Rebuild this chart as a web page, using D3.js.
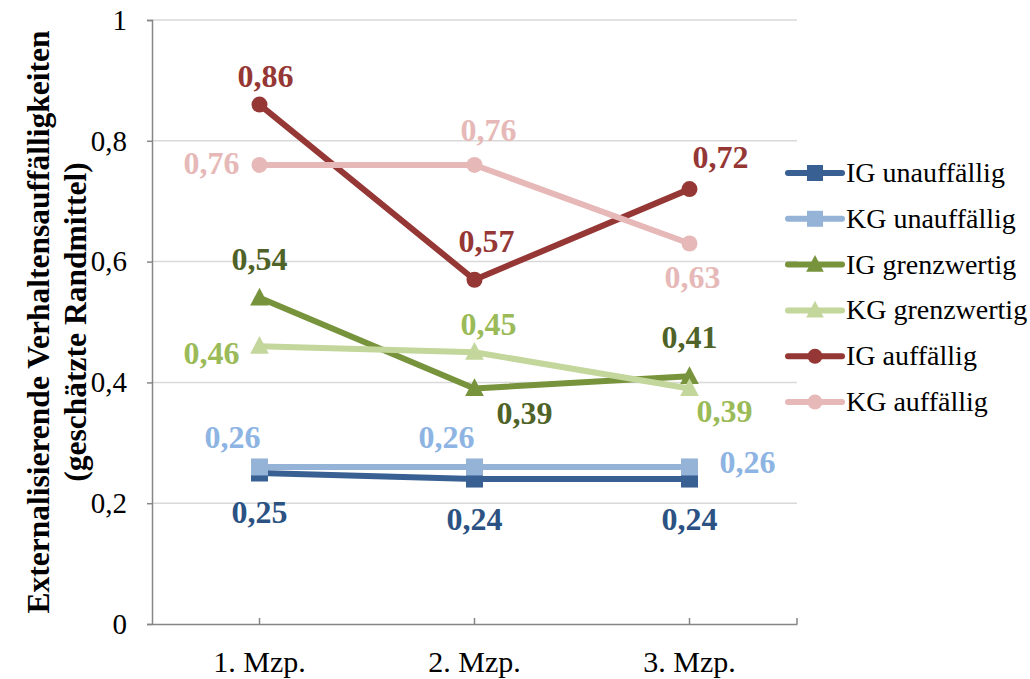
<!DOCTYPE html>
<html>
<head>
<meta charset="utf-8">
<script src="https://cdn.jsdelivr.net/npm/d3@7"></script>
<style>
  html, body { margin: 0; padding: 0; background: #fff; }
  svg { display: block; }
</style>
</head>
<body>
<svg id="chart" width="1030" height="679"></svg>
<script>
// Messzeitpunkte
const categories = ["1. Mzp.", "2. Mzp.", "3. Mzp."];

// Geschätzte Randmittel je Gruppe
const igUnauffaellig = [0.25, 0.24, 0.24];
const kgUnauffaellig = [0.26, 0.26, 0.26];
const igGrenzwertig  = [0.54, 0.39, 0.41];
const kgGrenzwertig  = [0.46, 0.45, 0.39];
const igAuffaellig   = [0.86, 0.57, 0.72];
const kgAuffaellig   = [0.76, 0.76, 0.63];

const seriesNames = ["IG unauffällig", "KG unauffällig", "IG grenzwertig",
                     "KG grenzwertig", "IG auffällig", "KG auffällig"];

const yTicks = [0, 0.2, 0.4, 0.6, 0.8, 1];
const yTickLabels = ["0", "0,2", "0,4", "0,6", "0,8", "1"];

const FONT = "'Liberation Serif', 'Times New Roman', Tinos, Times, serif";

// Styling per series: line colour, label colour, marker and label offset [dx, dy, anchor] per point
const series = [
  { name: seriesNames[0], values: igUnauffaellig, color: "#386093", labelColor: "#2b5283", marker: "square",
    lbl: [[0, 50, "middle"], [0, 51, "middle"], [0, 51, "middle"]] },
  { name: seriesNames[1], values: kgUnauffaellig, color: "#95b3d7", labelColor: "#8db4e2", marker: "square",
    lbl: [[-27, -19, "middle"], [-28, -19, "middle"], [30, 6, "start"]] },
  { name: seriesNames[2], values: igGrenzwertig, color: "#77933c", labelColor: "#4f6228", marker: "triangle",
    lbl: [[0, -28, "middle"], [50, 36, "middle"], [0, -28, "middle"]] },
  { name: seriesNames[3], values: kgGrenzwertig, color: "#c3d69b", labelColor: "#9bbb59", marker: "triangle",
    lbl: [[-20, 18, "end"], [14, -17, "middle"], [35, 34, "middle"]] },
  { name: seriesNames[4], values: igAuffaellig, color: "#953735", labelColor: "#953735", marker: "circle",
    lbl: [[6, -18, "middle"], [12, -28, "middle"], [31, -21, "middle"]] },
  { name: seriesNames[5], values: kgAuffaellig, color: "#e6b9b8", labelColor: "#e6b9b8", marker: "circle",
    lbl: [[-20, 9, "end"], [14, -24, "middle"], [3, 45, "middle"]] }
];

const svg = d3.select("#chart");
const plot = { left: 152, right: 797, top: 20, bottom: 624 };

const x = d3.scaleBand().domain(categories).range([plot.left, plot.right]).padding(0);
const cx = c => x(c) + x.bandwidth() / 2;
const y = d3.scaleLinear().domain([0, 1]).range([plot.bottom, plot.top]);

const fmt = v => d3.format(".2f")(v).replace(".", ",");

// Horizontal gridlines
svg.append("g").selectAll("line")
  .data(yTicks.filter(t => t > 0))
  .join("line")
  .attr("x1", plot.left).attr("x2", plot.right)
  .attr("y1", d => y(d)).attr("y2", d => y(d))
  .attr("stroke", "#d9d9d9").attr("stroke-width", 1.5);

// Y axis
const yAxis = svg.append("g")
  .attr("transform", `translate(${plot.left},0)`)
  .call(d3.axisLeft(y).tickValues(yTicks).tickSize(5).tickPadding(20)
        .tickFormat((d, i) => yTickLabels[i]));
yAxis.attr("font-family", FONT);
yAxis.select(".domain").attr("stroke", "#868686").attr("stroke-width", 1.5);
yAxis.selectAll(".tick line").attr("stroke", "#868686").attr("stroke-width", 1.5);
yAxis.selectAll("text").attr("font-size", 29).attr("fill", "#000");

// X axis
const xAxis = svg.append("g")
  .attr("transform", `translate(0,${plot.bottom})`)
  .call(d3.axisBottom(x).tickSize(0));
xAxis.attr("font-family", FONT);
xAxis.select(".domain").attr("stroke", "#868686").attr("stroke-width", 1.5);
xAxis.selectAll("text").attr("font-size", 30).attr("fill", "#000")
  .attr("dy", null).attr("y", 48);
// inward tick marks at category centres and right end
svg.append("g").selectAll("line")
  .data(categories.map(cx).concat([plot.right]))
  .join("line")
  .attr("x1", d => d).attr("x2", d => d)
  .attr("y1", plot.bottom).attr("y2", plot.bottom - 6)
  .attr("stroke", "#868686").attr("stroke-width", 1.5);

// Y axis title
const title = svg.append("text")
  .attr("transform", `translate(0,322) rotate(-90)`)
  .attr("text-anchor", "middle")
  .attr("font-family", FONT).attr("font-weight", "bold")
  .attr("font-size", 31.5).attr("fill", "#000");
title.append("tspan").attr("x", 0).attr("y", 49).text("Externalisierende Verhaltensauffälligkeiten");
title.append("tspan").attr("x", 0).attr("y", 86).text("(geschätzte Randmittel)");

// Marker drawing
function drawMarker(g, type, color, size) {
  if (type === "square") {
    g.append("rect").attr("x", -size / 2).attr("y", -size / 2)
      .attr("width", size).attr("height", size).attr("fill", color);
  } else if (type === "circle") {
    g.append("circle").attr("r", size / 2).attr("fill", color);
  } else {
    const h = size;
    g.append("path")
      .attr("d", `M0,${-h * 0.6} L${h * 0.55},${h * 0.45} L${-h * 0.55},${h * 0.45} Z`)
      .attr("fill", color);
  }
}

const line = d3.line().x((d, i) => cx(categories[i])).y(d => y(d));

// Series lines and markers
series.forEach(s => {
  const g = svg.append("g");
  g.append("path").datum(s.values)
    .attr("d", line)
    .attr("fill", "none").attr("stroke", s.color).attr("stroke-width", 6)
    .attr("stroke-linejoin", "round").attr("stroke-linecap", "round");
  s.values.forEach((v, i) => {
    const m = g.append("g").attr("transform", `translate(${cx(categories[i])},${y(v)})`);
    drawMarker(m, s.marker, s.color, s.marker === "circle" ? 16 : 17);
  });
});

// Data labels
series.forEach(s => {
  s.values.forEach((v, i) => {
    const [dx, dy, anchor] = s.lbl[i];
    svg.append("text")
      .attr("x", cx(categories[i]) + dx)
      .attr("y", y(v) + dy)
      .attr("text-anchor", anchor)
      .attr("font-family", FONT).attr("font-weight", "bold")
      .attr("font-size", 32).attr("fill", s.labelColor)
      .text(fmt(v));
  });
});

// Legend
const legend = svg.append("g");
const legendY0 = 173, legendStep = 45.8;
series.forEach((s, i) => {
  const g = legend.append("g").attr("transform", `translate(0,${legendY0 + i * legendStep})`);
  g.append("line").attr("x1", 788).attr("x2", 842).attr("y1", 0).attr("y2", 0)
    .attr("stroke", s.color).attr("stroke-width", 6).attr("stroke-linecap", "round");
  const m = g.append("g").attr("transform", "translate(815,0)");
  drawMarker(m, s.marker, s.color, s.marker === "circle" ? 15 : 16);
  g.append("text").attr("x", 846).attr("y", 9)
    .attr("font-family", FONT).attr("font-size", 28).attr("fill", "#000")
    .text(s.name);
});
</script>
</body>
</html>
